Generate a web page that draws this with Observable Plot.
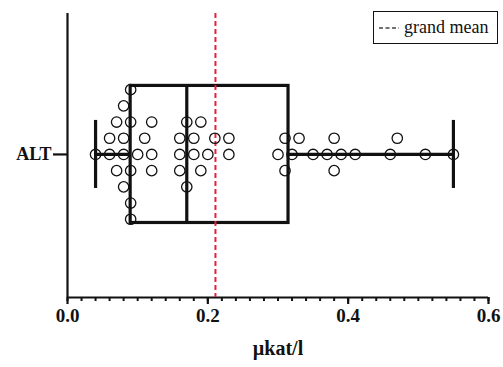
<!DOCTYPE html>
<html><head><meta charset="utf-8">
<script src="https://cdn.jsdelivr.net/npm/d3@7"></script>
<script src="https://cdn.jsdelivr.net/npm/@observablehq/plot@0.6"></script>
<style>
body{margin:0;background:#fff;}
#wrap{position:relative;width:503px;height:367px;}
#legend{position:absolute;left:373px;top:11px;width:125px;height:33px;border:1.5px solid #111;box-sizing:border-box;font:18px "Liberation Serif",serif;color:#111;display:flex;align-items:center;padding-left:4px;white-space:nowrap;}
#legend svg{margin-right:4px;}
</style></head><body>
<div id="wrap"><div id="legend"><svg width="22" height="6"><line x1="1" x2="21" y1="3" y2="3" stroke="#444" stroke-width="1.5" stroke-dasharray="4,2.5"/></svg><span id="legtext"></span></div></div>
<script>
// ---- data ----
const categories = ["ALT"];
const altValues = [
  0.04, 0.06, 0.06, 0.07, 0.07, 0.08, 0.08, 0.08, 0.08,
  0.09, 0.09, 0.09, 0.09, 0.09, 0.10, 0.11, 0.12, 0.12, 0.12,
  0.16, 0.16, 0.16, 0.17, 0.17, 0.18, 0.18, 0.19, 0.19, 0.20, 0.21, 0.23, 0.23,
  0.30, 0.31, 0.31, 0.32, 0.33, 0.35, 0.37, 0.38, 0.38, 0.39, 0.41, 0.46, 0.47, 0.51, 0.55
];
const xTicks = [0, 0.2, 0.4, 0.6];
const xMinorTicks = d3.range(0, 31).map(i => i * 0.02);
const xLabel = "µkat/l";
const legendLabels = ["grand mean"];

document.getElementById("legtext").textContent = legendLabels[0];

// ---- statistics ----
const sorted = altValues.slice().sort(d3.ascending);
const q1 = d3.quantile(sorted, 0.25);
const med = d3.quantile(sorted, 0.5);
const q3 = d3.quantile(sorted, 0.75);
const vmin = d3.min(sorted), vmax = d3.max(sorted);
const grandMean = d3.mean(sorted);

// ---- simple scatter (swarm) layout in discrete lanes ----
const minGap = 0.015;
const laneOrder = [0];
for (let k = 1; k <= 12; k++) laneOrder.push(-k, k);
const placed = [];
for (const v of sorted) {
  for (const lane of laneOrder) {
    if (!placed.some(p => p.lane === lane && Math.abs(p.v - v) < minGap)) {
      placed.push({v, lane});
      break;
    }
  }
}

const BOX = 4.23, CAP = 2.1;
const yDom = [-8.83, 8.70];
const ink = "#111";
const serif = "Liberation Serif, Times New Roman, serif";

const chart = Plot.plot({
  width: 503, height: 367,
  marginLeft: 67, marginRight: 15, marginTop: 13, marginBottom: 70,
  style: {fontFamily: serif, background: "transparent"},
  x: {domain: [0, 0.6]},
  y: {domain: yDom},
  marks: [
    // axis lines
    Plot.ruleX([0], {stroke: ink, strokeWidth: 2.2}),
    Plot.ruleY([yDom[0]], {stroke: ink, strokeWidth: 2.2}),
    // x axis
    Plot.axisX({ticks: xMinorTicks, tickSize: 4, tickFormat: () => "", strokeWidth: 2, stroke: ink, label: null}),
    Plot.axisX({ticks: xTicks, tickSize: 7, tickPadding: 4, strokeWidth: 2.2, stroke: ink, fill: ink,
      tickFormat: d3.format(".1f"), fontSize: 19, fontWeight: "bold", label: null}),
    Plot.text([xLabel], {frameAnchor: "bottom", dy: 57, fontSize: 20, fontWeight: "bold", fill: ink}),
    // y axis
    Plot.axisY({ticks: [0], tickSize: 14, tickPadding: 2, strokeWidth: 2.2, stroke: ink, fill: ink,
      tickFormat: () => categories[0], fontSize: 18, fontWeight: "bold", label: null}),
    // box
    Plot.rect([0], {x1: q1, x2: q3, y1: -BOX, y2: BOX, fill: "none", stroke: ink, strokeWidth: 3.2}),
    Plot.ruleX([med], {y1: -BOX, y2: BOX, stroke: ink, strokeWidth: 3.2}),
    Plot.ruleY([0, 0], {x1: [vmin, q3], x2: [q1, vmax], stroke: ink, strokeWidth: 3.2}),
    Plot.ruleX([vmin, vmax], {y1: -CAP, y2: CAP, stroke: ink, strokeWidth: 3.2}),
    // grand mean
    Plot.ruleX([grandMean], {stroke: "#e8203a", strokeWidth: 2, strokeDasharray: "5,3"}),
    // points
    Plot.dot(placed, {x: "v", y: d => -d.lane, r: 5.2, stroke: ink, strokeWidth: 1.3, fill: "none"})
  ]
});
document.getElementById("wrap").prepend(chart);
chart.style.position = "absolute";
chart.style.left = "0";
chart.style.top = "0";
</script>
</body></html>
